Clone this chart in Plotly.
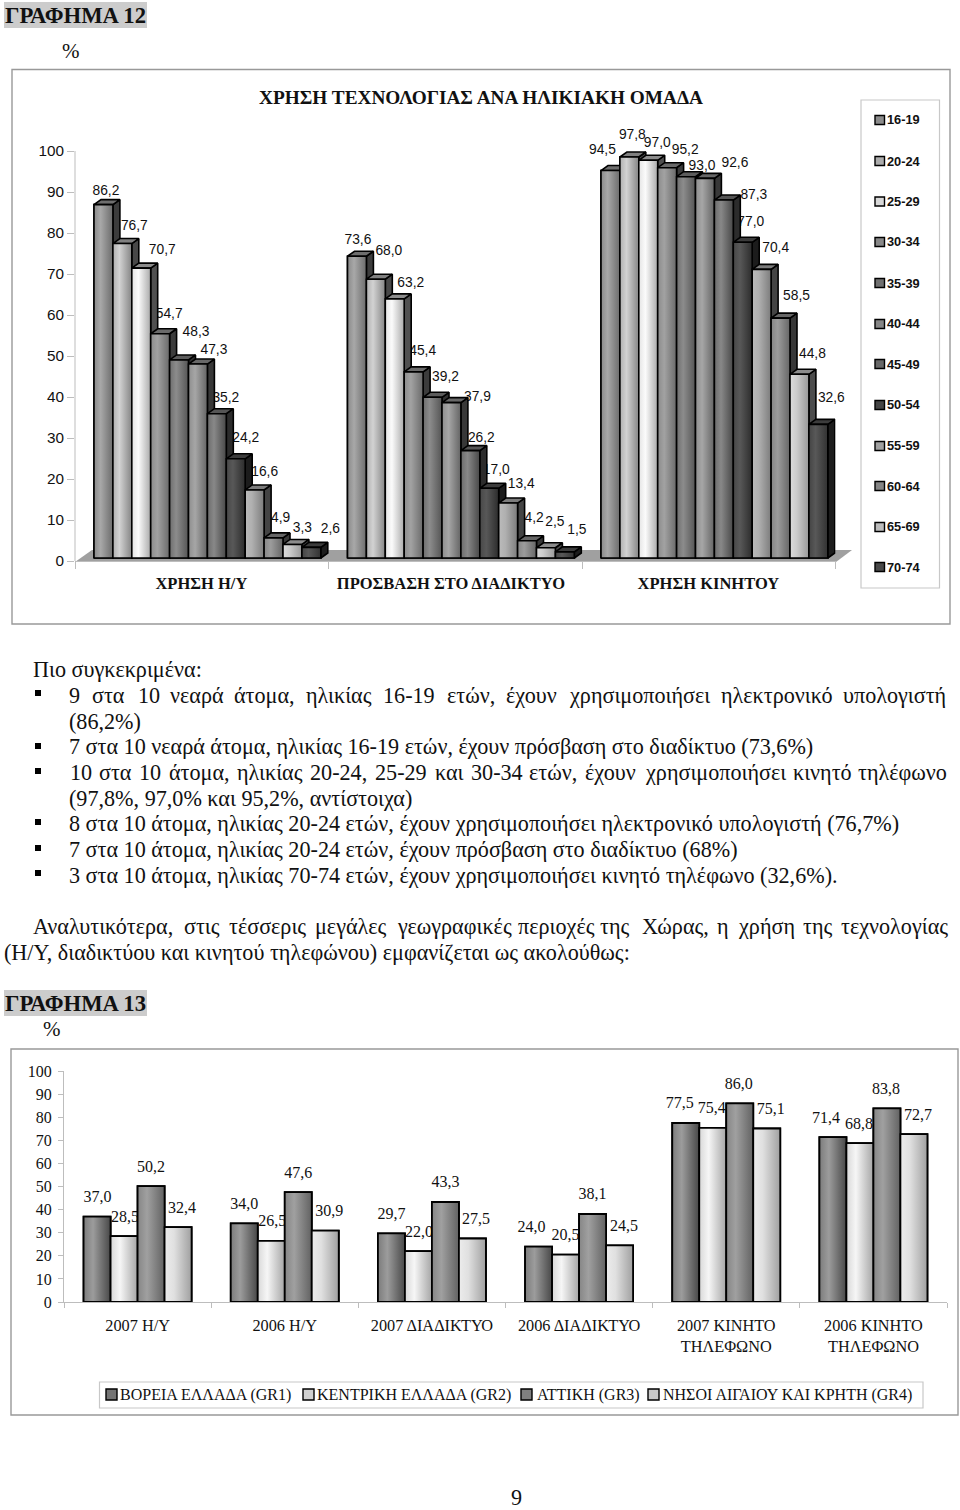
import plotly.graph_objects as go

# ---------- data ----------
age_groups = ["16-19","20-24","25-29","30-34","35-39","40-44","45-49","50-54","55-59","60-64","65-69","70-74"]
usage_categories = ["ΧΡΗΣΗ Η/Υ","ΠΡΟΣΒΑΣΗ ΣΤΟ ΔΙΑΔΙΚΤΥΟ","ΧΡΗΣΗ ΚΙΝΗΤΟΥ"]
pc_use = [86.2,76.7,70.7,54.7,48.3,47.3,35.2,24.2,16.6,4.9,3.3,2.6]
internet_access = [73.6,68.0,63.2,45.4,39.2,37.9,26.2,17.0,13.4,4.2,2.5,1.5]
mobile_use = [94.5,97.8,97.0,95.2,93.0,92.6,87.3,77.0,70.4,58.5,44.8,32.6]

regions = ["ΒΟΡΕΙΑ ΕΛΛΑΔΑ (GR1)","ΚΕΝΤΡΙΚΗ ΕΛΛΑΔΑ (GR2)","ΑΤΤΙΚΗ (GR3)","ΝΗΣΟΙ ΑΙΓΑΙΟΥ ΚΑΙ ΚΡΗΤΗ (GR4)"]
region_categories = ["2007 Η/Υ","2006 Η/Υ","2007 ΔΙΑΔΙΚΤΥΟ","2006 ΔΙΑΔΙΚΤΥΟ","2007 ΚΙΝΗΤΟ<br>ΤΗΛΕΦΩΝΟ","2006 ΚΙΝΗΤΟ<br>ΤΗΛΕΦΩΝΟ"]
gr1 = [37.0,34.0,29.7,24.0,77.5,71.4]
gr2 = [28.5,26.5,22.0,20.5,75.4,68.8]
gr3 = [50.2,47.6,43.3,38.1,86.0,83.8]
gr4 = [32.4,30.9,27.5,24.5,75.1,72.7]

# ---------- style ----------
SERIF = "Liberation Serif"
SANS = "Liberation Sans"
INK = "#111111"
# (left, highlight, right, side, top, legend swatch)
age_shades = [
    ("#8a8a8a","#a8a8a8","#6c6c6c","#3c3c3c","#6e6e6e","#8c8c8c"),
    ("#b0b0b0","#d2d2d2","#858585","#484848","#808080","#acacac"),
    ("#e4e4e4","#fbfbfb","#aaaaaa","#505050","#8c8c8c","#d8d8d8"),
    ("#8c8c8c","#a2a2a2","#6a6a6a","#3c3c3c","#6a6a6a","#888888"),
    ("#6e6e6e","#8c8c8c","#555555","#303030","#5c5c5c","#707070"),
    ("#8e8e8e","#a6a6a6","#646464","#383838","#686868","#868686"),
    ("#6c6c6c","#888888","#484848","#2c2c2c","#555555","#686868"),
    ("#484848","#585858","#2c2c2c","#1c1c1c","#3c3c3c","#444444"),
    ("#bbbbbb","#b0b0b0","#7c7c7c","#444444","#7c7c7c","#a0a0a0"),
    ("#868686","#9c9c9c","#666666","#383838","#666666","#848484"),
    ("#dcdcdc","#cccccc","#989898","#4c4c4c","#8c8c8c","#bcbcbc"),
    ("#444444","#585858","#323232","#1c1c1c","#3c3c3c","#484848"),
]
region_shades = [
    ("#7c7c7c","#9c9c9c","#484848","#747474"),
    ("#d8d8d8","#f6f6f6","#a6a6a6","#d0d0d0"),
    ("#868686","#a0a0a0","#626262","#808080"),
    ("#ececec","#e0e0e0","#a0a0a0","#c8c8c8"),
]

# label offsets from the bar's top centre, in pixels
label_dx_1 = [[2.5,12,21,9,17,16,9,10,10,7,10,19],
              [1,13,16,9,13,26,11,7,13,7,9,12],
              [-8,3,9,18,16,30,30,8,14,16,13,13]]
label_dy_1 = [[-13,-17,-18,-19,-27,-14,-15,-20,-17,-19,-16,-18],
              [-16,-28,-15,-20,-20,-5,-12,-18,-19,-22,-25,-21],
              [-20,-21,-17,-17,-10,-15,-5,-20,-21,-22,-20,-26]]
label_dx_2 = [[0.5,1,0,4],[0,1,0,4],[0,0.5,0,3.5],[-7,0,0,4.5],[-6,-1,-1,4],[-7,-1,-1,4]]
label_dy_2 = -18.5
category_shift_1 = [-6, -10, -6]

# ---------- page geometry (pixels) ----------
W, H = 960, 1510
fx = lambda x: x / W
fy = lambda y: 1 - y / H

# chart 1
C1_L, C1_R, C1_TOP, C1_ZERO = 75.0, 835.5, 151.0, 561.0
BAR_PX = 18.9
PX_Y1 = (C1_ZERO - C1_TOP) / 100
Y1_HEADROOM = 112
GROUP_PX = 253.5
FIRST_PX = 19.0
FRONT_LIFT = 3 / PX_Y1
DX = 7 / BAR_PX
DY = 5 / PX_Y1
# chart 2
C2_L, C2_R, C2_TOP, C2_ZERO = 64.0, 947.0, 1071.0, 1302.0
PX_Y2 = (C2_ZERO - C2_TOP) / 100
GROUP2_PX = (C2_R - C2_L) / 6
BAR2 = 27 / GROUP2_PX

fig = go.Figure()

# ---------- chart 1 ----------
groups1 = [pc_use, internet_access, mobile_use]
group_starts = [(FIRST_PX + g * GROUP_PX) / BAR_PX for g in range(3)]

for i, age in enumerate(age_groups):
    fig.add_trace(go.Bar(
        x=[s + i + 0.5 for s in group_starts],
        y=[g[i] for g in groups1],
        base=FRONT_LIFT, width=1, name=age, showlegend=False,
        marker=dict(color=age_shades[i][1], line=dict(color="black", width=1.6)),
        hoverinfo="skip", xaxis="x", yaxis="y"))

lx, ly, lt = [], [], []
for g, vals in enumerate(groups1):
    for i, v in enumerate(vals):
        lx.append(group_starts[g] + i + 0.5 + label_dx_1[g][i] / BAR_PX)
        ly.append(v + FRONT_LIFT - label_dy_1[g][i] / PX_Y1)
        lt.append(f"{v:.1f}".replace(".", ","))
fig.add_trace(go.Scatter(x=lx, y=ly, text=lt, mode="text", textposition="middle center",
                         textfont=dict(family=SANS, size=13.8, color=INK), cliponaxis=False,
                         hoverinfo="skip", showlegend=False, xaxis="x", yaxis="y"))

for g, vals in enumerate(groups1):
    for i, v in enumerate(vals):
        x0 = group_starts[g] + i
        x1 = x0 + 1
        b = FRONT_LIFT
        t = v + FRONT_LIFT
        c = age_shades[i]
        line = dict(color="black", width=1.6)
        fig.add_trace(go.Scatter(x=[x1, x1 + DX, x1 + DX, x1, x1], y=[b, b + DY, t + DY, t, b],
                                 fill="toself", fillcolor=c[3], mode="lines", line=line,
                                 cliponaxis=False, hoverinfo="skip", showlegend=False))
        fig.add_trace(go.Scatter(x=[x0, x1, x1 + DX, x0 + DX, x0], y=[t, t, t + DY, t + DY, t],
                                 fill="toself", fillcolor=c[4], mode="lines", line=line,
                                 cliponaxis=False, hoverinfo="skip", showlegend=False))
        fig.add_trace(go.Scatter(x=[x0, x1, x1, x0, x0], y=[b, b, t, t, b],
                                 fill="toself", mode="lines", line=line, cliponaxis=False,
                                 fillgradient=dict(type="horizontal", start=x0, stop=x1,
                                                   colorscale=[[0, c[0]], [0.35, c[1]], [1, c[2]]]),
                                 hoverinfo="skip", showlegend=False))

# ---------- chart 2 ----------
series2 = [gr1, gr2, gr3, gr4]
for j, (name, vals) in enumerate(zip(regions, series2)):
    xs = [k + 0.5 + (j - 1.5) * BAR2 for k in range(6)]
    c = region_shades[j]
    fig.add_trace(go.Bar(x=xs, y=vals, width=BAR2, name=name, showlegend=False,
                         marker=dict(color=c[1], line=dict(color="black", width=1.8)),
                         hoverinfo="skip", xaxis="x2", yaxis="y2"))

lx, ly, lt = [], [], []
for j, vals in enumerate(series2):
    for k, v in enumerate(vals):
        lx.append(k + 0.5 + (j - 1.5) * BAR2 + label_dx_2[k][j] / GROUP2_PX)
        ly.append(v - label_dy_2 / PX_Y2)
        lt.append(f"{v:.1f}".replace(".", ","))
fig.add_trace(go.Scatter(x=lx, y=ly, text=lt, mode="text", textposition="middle center",
                         textfont=dict(family=SERIF, size=16, color=INK), cliponaxis=False,
                         hoverinfo="skip", showlegend=False, xaxis="x2", yaxis="y2"))

for j, vals in enumerate(series2):
    c = region_shades[j]
    for k, v in enumerate(vals):
        x0 = k + 0.5 + (j - 2) * BAR2
        x1 = x0 + BAR2
        fig.add_trace(go.Scatter(x=[x0, x1, x1, x0, x0], y=[0, 0, v, v, 0],
                                 fill="toself", mode="lines", line=dict(color="black", width=1.8),
                                 fillgradient=dict(type="horizontal", start=x0, stop=x1,
                                                   colorscale=[[0, c[0]], [0.35, c[1]], [1, c[2]]]),
                                 cliponaxis=False, hoverinfo="skip", showlegend=False,
                                 xaxis="x2", yaxis="y2"))

# ---------- shapes ----------
def rect(x0, y0, x1, y1, fill="rgba(0,0,0,0)", line="#999999", lw=1.4, layer="below"):
    return dict(type="rect", xref="paper", yref="paper", x0=fx(x0), x1=fx(x1), y0=fy(y1), y1=fy(y0),
                fillcolor=fill, line=dict(color=line, width=lw), layer=layer)

axis_grey = "#bdbdbd"
shapes = [
    rect(4, 2, 147, 28, "#cccccc", "#cccccc", 0),
    rect(4, 990, 147, 1016, "#cccccc", "#cccccc", 0),
    rect(12, 69.5, 950, 624),
    rect(11, 1049, 958, 1415),
    rect(861, 100, 939.5, 588, "white", "#c8c8c8", 1.2),
    rect(99.5, 1382, 923, 1408, "white", "#c8c8c8", 1.2),
    # chart-1 value axis stops at 100
    dict(type="line", xref="paper", yref="paper", x0=fx(C1_L), x1=fx(C1_L), y0=fy(C1_ZERO), y1=fy(C1_TOP),
         line=dict(color=axis_grey, width=1), layer="below"),
]
# chart-1 floor
shapes.append(dict(type="path", xref="paper", yref="paper", layer="below",
                   path=f"M{fx(75)},{fy(562)} L{fx(836)},{fy(562)} L{fx(852)},{fy(550)} L{fx(92)},{fy(550)} Z",
                   fillcolor="#a0a0a0", line=dict(width=0)))
# bullets
for yb in [693, 746, 771, 822, 848, 873]:
    shapes.append(rect(35, yb - 3, 41, yb + 3, "black", "black", 0))

# ---------- text ----------
ann = []
BODY = 22.15
def text(x, y, s, size=BODY, fam=SERIF, weight=None, anchor="left", color=INK):
    t = f"<b>{s}</b>" if weight else s
    ann.append(dict(xref="paper", yref="paper", x=fx(x), y=fy(y), text=t, showarrow=False,
                    xanchor=anchor, yanchor="middle", borderpad=0, borderwidth=0,
                    font=dict(family=fam, size=size, color=color)))

text(5, 16, "ΓΡΑΦΗΜΑ 12", 22.7, weight=True)
text(62, 51, "%", 21)
text(5, 1003, "ΓΡΑΦΗΜΑ 13", 22.7, weight=True)
text(43, 1029, "%", 21)
text(481, 97, "ΧΡΗΣΗ ΤΕΧΝΟΛΟΓΙΑΣ ΑΝΑ ΗΛΙΚΙΑΚΗ ΟΜΑΔΑ", 19.3, weight=True, anchor="center")
text(33, 669.2, "Πιο συγκεκριμένα:")
text(69, 721.2, "(86,2%)")
text(69, 746.2, "7 στα 10 νεαρά άτομα, ηλικίας 16-19 ετών, έχουν πρόσβαση στο διαδίκτυο (73,6%)")
text(69, 798.2, "(97,8%, 97,0% και 95,2%, αντίστοιχα)")
text(69, 823.2, "8 στα 10 άτομα, ηλικίας 20-24 ετών, έχουν χρησιμοποιήσει ηλεκτρονικό υπολογιστή (76,7%)")
text(69, 849.2, "7 στα 10 άτομα, ηλικίας 20-24 ετών, έχουν πρόσβαση στο διαδίκτυο (68%)")
text(69, 875.2, "3 στα 10 άτομα, ηλικίας 70-74 ετών, έχουν χρησιμοποιήσει κινητό τηλέφωνο (32,6%).")
text(4, 952.2, "(Η/Υ, διαδικτύου και κινητού τηλεφώνου) εμφανίζεται ως ακολούθως:")
text(511, 1497.5, "9")

# justified lines, word by word
just_1 = ["9","στα","10","νεαρά","άτομα,","ηλικίας","16-19","ετών,","έχουν","χρησιμοποιήσει","ηλεκτρονικό","υπολογιστή"]
just_1x = [69,92,138,170,234,306,383,447,506,569,721,843]
just_2 = ["10","στα","10","άτομα,","ηλικίας","20-24,","25-29","και","30-34","ετών,","έχουν","χρησιμοποιήσει","κινητό","τηλέφωνο"]
just_2x = [70,99,139,169,237,310,375,435,471,529,585,645,793,858]
just_3 = ["Αναλυτικότερα,","στις","τέσσερις","μεγάλες","γεωγραφικές","περιοχές","της","Χώρας,","η","χρήση","της","τεχνολογίας"]
just_3x = [33,184,229,315,397,518,600,642,717,738,803,841]
for words, xs, y in [(just_1, just_1x, 695.2), (just_2, just_2x, 772.2), (just_3, just_3x, 926.2)]:
    for w, x in zip(words, xs):
        text(x, y, w)

# custom legends
legend_y = [120, 161, 201.5, 242, 283, 324, 364, 405, 446, 486, 527, 567]
for age, y, c in zip(age_groups, legend_y, age_shades):
    shapes.append(rect(875, y - 4.5, 884.5, y + 4.5, c[5], "black", 1.4, layer="above"))
    text(887, y, age, 12.8, SANS, True)
legend2_x = [(106, 120), (303, 317), (521, 537), (648, 663)]
for name, (sx, tx), c in zip(regions, legend2_x, region_shades):
    shapes.append(rect(sx, 1389, sx + 11, 1400, c[3], "black", 1.4, layer="above"))
    text(tx, 1395, name, 16)

fig.update_layout(
    width=W, height=H, autosize=False, margin=dict(l=0, r=0, t=0, b=0, autoexpand=False),
    paper_bgcolor="white", plot_bgcolor="rgba(0,0,0,0)", barmode="overlay", showlegend=False,
    shapes=shapes, annotations=ann,
    xaxis=dict(domain=[fx(C1_L), fx(C1_R)], range=[0, (C1_R - C1_L) / BAR_PX], anchor="y", automargin=False,
               tickmode="array",
               tickvals=[(FIRST_PX + g * GROUP_PX + category_shift_1[g]) / BAR_PX + 6 for g in range(3)],
               ticktext=[f"<b>{c}</b>" for c in usage_categories],
               ticks="", showgrid=False, zeroline=False, showline=True, linecolor=axis_grey, linewidth=1,
               tickfont=dict(family=SERIF, size=16.5, color=INK), ticklabelstandoff=7,
               minor=dict(tickmode="array", tickvals=[g * GROUP_PX / BAR_PX for g in range(4)],
                          ticks="outside", ticklen=7, tickcolor=axis_grey, tickwidth=1)),
    yaxis=dict(domain=[fy(C1_ZERO), fy(C1_ZERO - Y1_HEADROOM * PX_Y1)], range=[0, Y1_HEADROOM], anchor="x",
               automargin=False, tickmode="array", tickvals=list(range(0, 101, 10)),
               ticks="outside", ticklen=7, tickcolor=axis_grey, tickwidth=1,
               showgrid=False, zeroline=False, showline=False,
               tickfont=dict(family=SANS, size=15.3, color=INK)),
    xaxis2=dict(domain=[fx(C2_L), fx(C2_R)], range=[0, 6], anchor="y2", automargin=False,
                tickmode="array", tickvals=[k + 0.5 for k in range(6)], ticktext=region_categories,
                ticks="", showgrid=False, zeroline=False, showline=True, linecolor=axis_grey, linewidth=1,
                tickfont=dict(family=SERIF, size=16.3, color=INK), ticklabelstandoff=8,
                minor=dict(tickmode="array", tickvals=list(range(7)),
                           ticks="outside", ticklen=5, tickcolor=axis_grey, tickwidth=1)),
    yaxis2=dict(domain=[fy(C2_ZERO), fy(C2_TOP)], range=[0, 100], anchor="x2", automargin=False,
                tickmode="array", tickvals=list(range(0, 101, 10)),
                ticks="outside", ticklen=5, tickcolor=axis_grey, tickwidth=1,
                showgrid=False, zeroline=False, showline=True, linecolor=axis_grey, linewidth=1,
                tickfont=dict(family=SERIF, size=16, color=INK), ticklabelstandoff=3),
)

fig.write_html("out.html", config=dict(displayModeBar=False),
               post_script="document.body.style.margin='0';")
